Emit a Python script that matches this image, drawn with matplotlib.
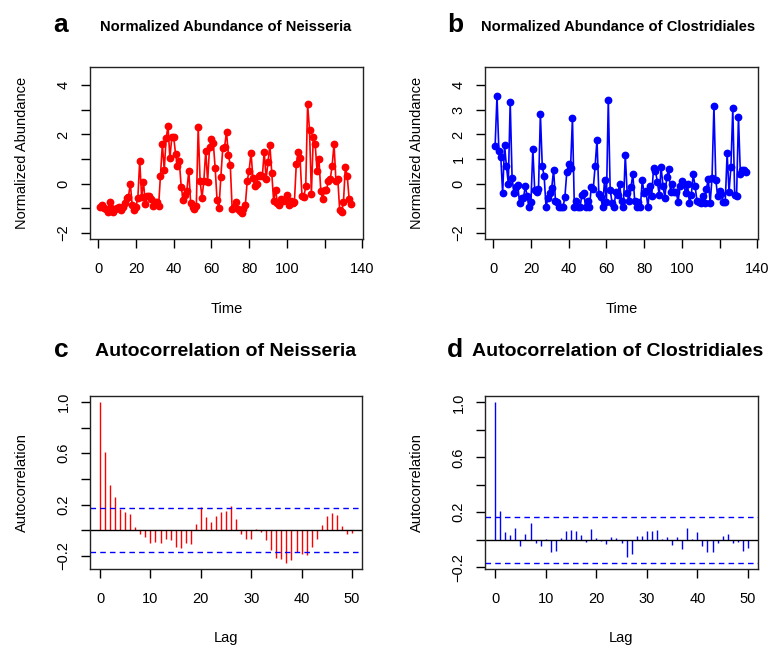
import numpy as np
import matplotlib.pyplot as plt

plt.rcParams['font.family'] = ['Liberation Sans', 'DejaVu Sans']

# normalized abundance time series
neisseria = [
    -0.95, -0.87, -1.0, -1.05, -1.18, -0.77, -1.0, -1.18, -1.05, -1.0,
    -0.96, -1.07, -0.95, -0.79, -0.59, -0.55, 0.0, -0.87, -1.07, -0.95,
    -0.59, 0.93, -0.55, 0.05, -0.85, -0.5, -0.5, -0.65, -0.93, -0.75,
    -0.75, -0.93, 0.31, 1.61, 0.55, 1.84, 2.34, 1.03, 1.88, 1.9,
    1.2, 0.72, 0.9, -0.15, -0.66, -0.46, -0.29, 0.53, -0.8, -0.96,
    -1.04, -0.9, 2.31, 0.12, -0.59, 0.12, 1.34, 0.08, 1.47, 1.8,
    1.66, 0.62, -0.69, -1.0, 0.26, 1.43, 1.5, 2.11, 1.16, 0.76,
    -1.04, -0.95, -0.77, -1.04, -1.1, -1.2, -1.04, -0.86, 0.12, 0.53,
    1.26, 0.22, -0.12, 0.0, 0.31, 0.35, 0.31, 1.3, 0.18, 0.89,
    1.57, 0.42, -0.73, -0.25, -0.8, -0.87, -0.63, -0.72, -0.68, -0.46,
    -0.87, -0.7, -0.78, -0.75, 0.8, 1.3, 1.03, -0.5, -0.55, -0.12,
    3.23, 2.18, -0.42, 1.88, 1.61, 0.53, 0.99, -0.32, -0.63, -0.28,
    -0.28, 0.12, 0.18, 0.72, 1.61, 0.12, 0.18, -1.09, -1.17, -0.77,
    0.69, 0.31, -0.63, -0.82,
]
clostridiales = [
    1.52, 3.57, 1.32, 1.1, -0.4, 1.58, 0.7, 0.0, 3.33, 0.23,
    -0.4, -0.16, -0.07, -0.8, -0.57, -0.6, -0.11, -0.52, -0.97, -0.75,
    1.39, -0.27, -0.34, -0.24, 2.83, 0.7, 0.3, -0.97, -0.57, -0.38,
    -0.2, 0.57, -0.7, -0.75, -0.97, -0.97, -0.97, -0.54, 0.47, 0.81,
    0.65, 2.67, -0.97, -0.7, -0.97, -0.97, -0.47, -0.4, -0.97, -0.7,
    -0.97, -0.14, -0.24, 0.7, 1.78, -0.43, -0.54, -0.97, 0.13, -0.75,
    3.41, -0.27, -0.78, -0.97, -0.34, -0.47, -0.03, -0.7, -0.97, 1.18,
    -0.4, -0.7, -0.16, 0.38, -0.7, -0.97, -0.75, -0.97, 0.13, -0.4,
    -0.3, -0.97, -0.11, -0.52, 0.65, 0.51, 0.07, -0.47, 0.67, -0.11,
    -0.57, 0.27, 0.61, -0.34, 0.0, -0.34, -0.34, -0.75, -0.11, 0.1,
    -0.03, -0.38, -0.03, -0.78, -0.47, 0.38, -0.11, -0.7, -0.75, -0.78,
    -0.52, -0.78, -0.24, 0.2, -0.8, 0.24, 3.17, 0.13, -0.52, -0.3,
    -0.43, -0.75, -0.75, 1.24, -0.34, 0.67, 3.07, -0.47, -0.52, 2.72,
    0.4, 0.56, 0.56, 0.45,
]
time = np.arange(1, len(neisseria) + 1)

# autocorrelation, lags 0..50
lags = np.arange(0, 51)
acf_neisseria = [
    1.0, 0.607, 0.349, 0.258, 0.168, 0.142, 0.129, 0.026, -0.026, -0.052,
    -0.098, -0.093, -0.098, -0.067, -0.078, -0.129, -0.142, -0.098, -0.111, 0.052,
    0.181, 0.103, 0.062, 0.109, 0.142, 0.152, 0.186, 0.088, -0.026, -0.065,
    -0.072, 0.010, -0.016, -0.078, -0.155, -0.22, -0.227, -0.253, -0.233, -0.168,
    -0.183, -0.196, -0.129, -0.067, 0.044, 0.114, 0.134, 0.119, 0.031, -0.026,
    -0.02,
]
acf_clostridiales = [
    1.0, 0.212, 0.053, 0.036, 0.089, -0.048, 0.043, 0.12, -0.024, -0.048,
    0.003, -0.089, -0.084, 0.01, 0.065, 0.072, 0.065, 0.034, -0.017, 0.077,
    0.01, -0.012, -0.031, 0.022, 0.01, -0.024, -0.125, -0.106, 0.024, 0.029,
    0.067, 0.067, 0.072, 0.007, 0.022, -0.036, 0.017, -0.065, 0.084, 0.003,
    0.06, -0.048, -0.092, -0.092, -0.024, 0.029, 0.043, -0.024, -0.019, -0.084,
    -0.06,
]
ci = 1.96 / np.sqrt(len(neisseria))

W, H = 772, 649
fig = plt.figure(figsize=(W / 100, H / 100), dpi=100)


def box(x0, y0, x1, y1):
    return fig.add_axes([x0 / W, 1 - y1 / H, (x1 - x0) / W, (y1 - y0) / H])


def style(ax):
    for s in ax.spines.values():
        s.set_linewidth(1.0)
        s.set_color('#222222')
    ax.tick_params(direction='out', length=6.5, width=1.0, labelsize=10.5, pad=10)
    ax.tick_params(axis='y', pad=7.5)
    for lab in ax.get_yticklabels():
        lab.set_rotation(90)
        lab.set_va('center')


def ts_panel(ax, y, color, ylabels):
    ax.plot(time, y, color=color, lw=1.2, marker='o', ms=4.6, mec=color, mfc=color)
    ax.set_xlim(-4.36, 140.36)
    ax.set_ylim(-2.26, 4.76)
    ax.set_xticks(range(0, 141, 20))
    ax.set_xticklabels(['0', '20', '40', '60', '80', '100', '', '140'])
    ax.set_yticks(range(-2, 5))
    ax.set_yticklabels(ylabels)
    ax.set_xlabel('Time', fontsize=10.5, labelpad=19)
    ax.set_ylabel('Normalized Abundance', fontsize=10.5, labelpad=20)
    style(ax)


def acf_panel(ax, acf, color, ymin):
    ax.vlines(lags, 0, acf, color=color, lw=1.0)
    ax.axhline(0, color='black', lw=1.0)
    ax.axhline(ci, color='blue', lw=1.0, ls=(0, (4, 3)))
    ax.axhline(-ci, color='blue', lw=1.0, ls=(0, (4, 3)))
    ax.set_xlim(-2, 52)
    ax.set_ylim(ymin, 1.047)
    ax.set_xticks(range(0, 51, 10))
    ax.set_yticks([-0.2, 0.0, 0.2, 0.4, 0.6, 0.8, 1.0])
    ax.set_yticklabels(['\u22120.2', '', '0.2', '', '0.6', '', '1.0'])
    ax.set_xlabel('Lag', fontsize=10.5, labelpad=18)
    ax.set_ylabel('Autocorrelation', fontsize=10.5, labelpad=20)
    style(ax)


ax_a = box(90, 66.7, 363, 239)
ts_panel(ax_a, neisseria, 'red', ['\u22122', '', '0', '', '2', '', '4'])
ax_b = box(485, 66.7, 758, 239)
ts_panel(ax_b, clostridiales, 'blue', ['\u22122', '', '0', '1', '2', '3', '4'])

ax_c = box(90, 396, 362, 569)
acf_panel(ax_c, acf_neisseria, 'red', -0.303)
ax_d = box(485, 396, 758, 569)
acf_panel(ax_d, acf_clostridiales, 'blue', -0.213)

# panel letters and titles
fig.text(61 / W, 1 - 32 / H, 'a', fontsize=19, fontweight='bold', ha='center', va='baseline')
fig.text(455 / W, 1 - 32 / H, 'b', fontsize=19, fontweight='bold', ha='center', va='baseline')
fig.text(61 / W, 1 - 357 / H, 'c', fontsize=19, fontweight='bold', ha='center', va='baseline')
fig.text(455 / W, 1 - 357 / H, 'd', fontsize=19, fontweight='bold', ha='center', va='baseline')
fig.text(226 / W, 1 - 31 / H, 'Normalized Abundance of Neisseria', fontsize=10.6,
         fontweight='bold', ha='center', va='baseline')
fig.text(618 / W, 1 - 31 / H, 'Normalized Abundance of Clostridiales', fontsize=10.6,
         fontweight='bold', ha='center', va='baseline')
fig.text(226 / W, 1 - 356 / H, 'Autocorrelation of Neisseria', fontsize=14,
         fontweight='bold', ha='center', va='baseline')
fig.text(618 / W, 1 - 356 / H, 'Autocorrelation of Clostridiales', fontsize=14,
         fontweight='bold', ha='center', va='baseline')

fig.savefig('out.png', dpi=100)
